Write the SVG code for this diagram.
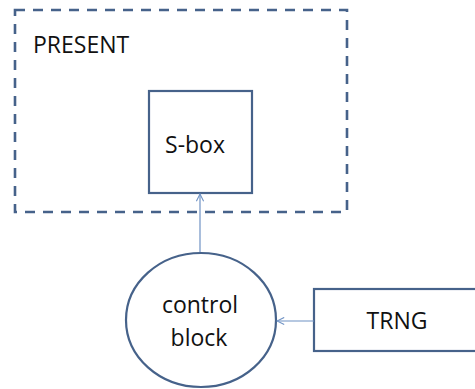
<svg xmlns="http://www.w3.org/2000/svg" width="475" height="389" viewBox="0 0 475 389">
  <style>
    .box { fill: #ffffff; stroke: #46628a; stroke-width: 2.2; }
    .frame { fill: none; stroke: #46628a; stroke-width: 2.6; stroke-dasharray: 10 8; }
    .label { font-family: "Open Sans", "Liberation Sans", sans-serif; font-size: 23px; fill: #111111; text-anchor: middle; }
    .wire { fill: none; stroke: #6f92c4; stroke-width: 1.2; marker-end: url(#head); }
  </style>
  <defs>
    <marker id="head" viewBox="0 0 10 10" refX="9" refY="5" markerWidth="9" markerHeight="9" markerUnits="userSpaceOnUse" orient="auto">
      <path d="M1,1 L9,5 L1,9" fill="none" stroke="#6f92c4" stroke-width="1.2"/>
    </marker>
  </defs>
  <rect width="475" height="389" fill="#ffffff"/>

  <g id="present">
    <rect class="frame" x="15" y="10" width="332" height="202"/>
    <text class="label" x="33" y="53" style="text-anchor:start">PRESENT</text>
  </g>

  <g id="sbox">
    <rect class="box" x="149" y="91" width="103" height="102"/>
    <text class="label" x="195" y="153">S-box</text>
  </g>

  <g id="control">
    <ellipse class="box" cx="201" cy="320" rx="75" ry="67"/>
    <text class="label" x="200" y="313">control</text>
    <text class="label" x="199" y="346">block</text>
  </g>

  <g id="trng">
    <rect class="box" x="314" y="289" width="170" height="62"/>
    <text class="label" x="397" y="329">TRNG</text>
  </g>

  <g id="connectors">
    <line class="wire" x1="200" y1="252" x2="200" y2="194"/>
    <line class="wire" x1="314" y1="321" x2="277" y2="321"/>
  </g>
</svg>
